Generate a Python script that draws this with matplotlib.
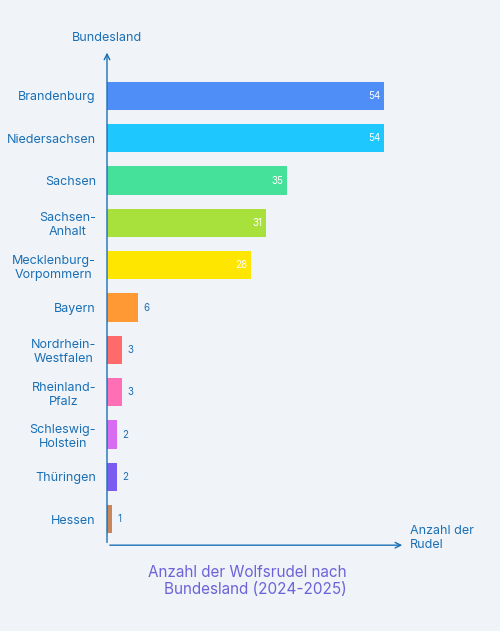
import matplotlib
matplotlib.use("Agg")
import matplotlib.pyplot as plt

plt.rcParams['font.family'] = ['Inter', 'DejaVu Sans']

states = ["Brandenburg", "Niedersachsen", "Sachsen", "Sachsen-\nAnhalt", "Mecklenburg-\nVorpommern",
          "Bayern", "Nordrhein-\nWestfalen", "Rheinland-\nPfalz", "Schleswig-\nHolstein", "Thüringen", "Hessen"]
values = [54, 54, 35, 31, 28, 6, 3, 3, 2, 2, 1]
colors = ["#4f8ef7", "#1ec8ff", "#45e09a", "#a8e03c", "#ffe600", "#ff9933",
          "#ff6b6b", "#ff6fb5", "#d86cf0", "#7b5cf0", "#c8865a"]

bg = "#f0f4f8"
tc = "#1a6fb5"
fig = plt.figure(figsize=(5, 6.31), dpi=100, facecolor=bg)
ax = fig.add_axes([0.214, 0.136, 0.596, 0.785], facecolor=bg)
n = len(states)
ys = [n - 1 - i for i in range(n)]
ax.barh(ys, values, height=0.67, color=colors)
for y, v in zip(ys, values):
    if v >= 10:
        ax.text(v - 0.6, y, str(v), ha="right", va="center", color="white", fontsize=7)
    else:
        ax.text(v + 1, y, str(v), ha="left", va="center", color=tc, fontsize=7)
ax.set_xlim(0, 58.1)
ax.set_ylim(-0.615, 11.09)
ax.set_yticks(ys)
ax.set_yticklabels(states, color=tc, fontsize=9, multialignment="center")
ax.tick_params(axis="y", length=0, pad=8)
ax.set_xticks([])
for s in ax.spines.values():
    s.set_visible(False)
ax.annotate("", xy=(0, 1.0), xytext=(0, 0), xycoords="axes fraction",
            arrowprops=dict(arrowstyle="->", color=tc, lw=1))
ax.annotate("", xy=(1.0, 0), xytext=(0, 0), xycoords="axes fraction",
            arrowprops=dict(arrowstyle="->", color=tc, lw=1))
fig.text(107/500, 1 - 38/631, "Bundesland", ha="center", va="center", color=tc, fontsize=9)
fig.text(410/500, 1 - 538/631, "Anzahl der\nRudel", ha="left", va="center", color=tc, fontsize=9)
fig.text(247/500, 1 - 581/631, "Anzahl der Wolfsrudel nach\n    Bundesland (2024-2025)",
         ha="center", va="center", color="#6b63d9", fontsize=11)
fig.savefig("out.png", dpi=100, facecolor=bg)
